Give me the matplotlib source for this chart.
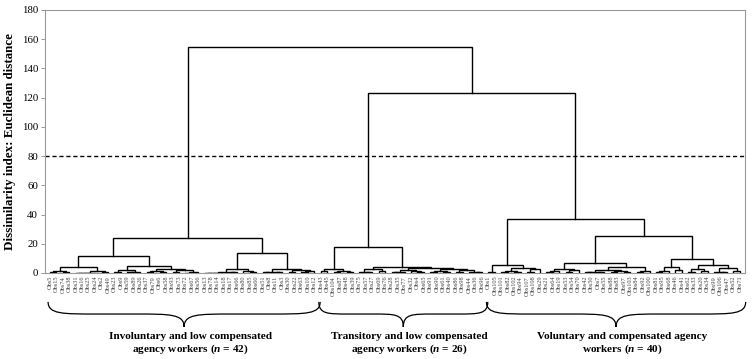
import matplotlib
matplotlib.use("Agg")
import matplotlib.pyplot as plt
from matplotlib.path import Path
from matplotlib.patches import PathPatch
import matplotlib.transforms as mtransforms

# ---------------- data ----------------
group1_labels = [5, 15, 74, 38, 31, 16, 25, 24, 2, 49, 23, 9, 59, 89, 26, 37, 79, 6, 58, 93,
                 73, 72, 67, 56, 13, 78, 14, 18, 17, 66, 80, 85, 60, 51, 8, 11, 3, 30, 22, 63,
                 10, 12]
group2_labels = [43, 45, 104, 87, 48, 39, 75, 57, 27, 69, 76, 28, 35, 77, 32, 4, 65, 91, 90, 61,
                 40, 86, 98, 44, 36, 96]
group3_labels = [1, 105, 101, 82, 102, 94, 107, 108, 29, 21, 64, 19, 53, 54, 70, 42, 50, 7, 55, 88,
                 83, 97, 103, 84, 92, 100, 81, 95, 68, 46, 41, 62, 33, 20, 34, 99, 106, 47, 52, 71]

group_titles = ["Involuntary and low compensated\nagency workers ($\\mathit{n}$ = 42)",
                "Transitory and low compensated\nagency workers ($\\mathit{n}$ = 26)",
                "Voluntary and compensated agency\nworkers ($\\mathit{n}$ = 40)"]

# merge tree: [height, left, right]; integers are leaf positions
tree_group1 = [24.0,
               [11.6,
                [4.3,
                 [1.5, [0.5, 0, 1], [0.8, 2, 3]],
                 [1.5, [0.3, [0.2, [0.1, 4, 5], 6], 7], [0.6, 8, 9]]],
                [5.0,
                 [2.0, [0.7, 10, 11], [1.0, [0.4, 12, 13], 14]],
                 [3.0,
                  [1.2, [0.5, 15, 16], [0.6, 17, 18]],
                  [2.2, [0.8, 19, 20], [0.4, [0.3, 21, 22], 23]]]]],
               [14.0,
                [2.5,
                 [0.6, [0.3, [0.2, [0.1, 24, 25], 26], 27], [0.4, 28, 29]],
                 [1.2, 30, [0.5, 31, 32]]],
                [3.0,
                 [1.0, [0.4, 33, 34], [0.7, 35, 36]],
                 [1.8, [0.6, 37, 38], [1.2, [0.5, 39, 40], 41]]]]]

tree_group2 = [18.0,
               [3.0, [1.2, 42, 43], [1.5, [0.6, 44, 45], [0.8, 46, 47]]],
               [4.4,
                [3.0, [1.0, 48, [0.5, 49, 50]], [1.5, 51, 52]],
                [3.5,
                 [2.2, [0.9, [0.4, 53, 54], 55], [1.3, 56, [0.5, 57, 58]]],
                 [2.8, [1.4, [0.6, 59, 60], [0.8, 61, 62]],
                  [2.0, [0.7, 63, 64], [1.0, 65, [0.4, 66, 67]]]]]]]

tree_group3 = [37.0,
               [5.5, [1.0, 68, 69],
                [3.5, [1.5, [0.6, 70, 71], [0.9, 72, 73]], [2.5, [0.8, 74, 75], 76]]],
               [25.5,
                [6.6,
                 [3.0, [1.2, [0.5, 77, 78], 79], [1.8, [0.6, 80, 81], 82]],
                 [4.3,
                  [2.2, [1.0, [0.5, 83, 84], [0.7, 85, 86]], [1.6, [0.6, 87, 88], [0.9, 89, 90]]],
                  [1.2, [0.5, 91, 92], 93]]],
                [9.5,
                 [4.3, [1.5, [0.6, 94, 95], 96], [2.0, 97, 98]],
                 [5.5, [2.5, [0.8, 99, 100], [1.2, 101, 102]],
                  [3.5, [1.0, 103, [0.4, 104, 105]], [1.5, 106, 107]]]]]]

height_g2_g3 = 123.0
height_root = 155.0
cut_height = 80
y_ticks = list(range(0, 181, 20))

# ---------------- plot ----------------
plt.rcParams["font.family"] = ["Liberation Serif", "DejaVu Serif"]
plt.rcParams["mathtext.fontset"] = "custom"
plt.rcParams["mathtext.it"] = "Liberation Serif:italic:bold"
plt.rcParams["mathtext.rm"] = "Liberation Serif:bold"

fig = plt.figure(figsize=(7.56, 3.59), dpi=100)
ax = fig.add_axes([45 / 756, 1 - 273 / 359, 700 / 756, 263 / 359])

tree = [height_root, tree_group1, [height_g2_g3, tree_group2, tree_group3]]


def draw(node):
    if isinstance(node, int):
        return float(node), 0.0
    h, left, right = node
    xl, hl = draw(left)
    xr, hr = draw(right)
    ax.plot([xl, xl, xr, xr], [hl, h, h, hr], color="black", lw=1.0,
            solid_joinstyle="miter", zorder=3)
    return (xl + xr) / 2.0, h


draw(tree)

all_labels = ["Obs%d" % v for v in group1_labels + group2_labels + group3_labels]
n = len(all_labels)

ax.axhline(cut_height, color="black", lw=1.0, ls=(0, (3, 2)), zorder=2)

ax.set_xlim(-0.78, n - 1 + 0.8)
ax.set_ylim(0, 180)
ax.set_yticks(y_ticks)
ax.set_yticklabels([str(t) for t in y_ticks], fontsize=7.8)
ax.set_xticks(range(n))
ax.set_xticklabels(all_labels, rotation=90, fontsize=4.6, color="#444444")
ax.tick_params(axis="x", length=0, pad=2)
ax.tick_params(axis="y", length=3, width=0.6, color="#888888", pad=2)
for sp in ax.spines.values():
    sp.set_color("#999999")
    sp.set_linewidth(0.8)

ax.set_ylabel("Dissimilarity index: Euclidean distance", fontsize=9.4,
              fontweight="bold", labelpad=4)

# braces and group titles
trans = mtransforms.blended_transform_factory(ax.transData, ax.transAxes)
sizes = [len(group1_labels), len(group2_labels), len(group3_labels)]
starts = [0, sizes[0], sizes[0] + sizes[1]]
y_top = -0.110
y_mid = -0.156
y_tip = -0.205
for s, k, title in zip(starts, sizes, group_titles):
    x0 = s - 0.3
    x1 = s + k - 1 + 0.9
    xc = (x0 + x1) / 2
    d = (xc - x0) * 0.35
    verts = [(x0, y_top), (x0, y_mid), (x0 + d * 0.3, y_mid), (x0 + d, y_mid),
             (xc - d, y_mid),
             (xc - d * 0.3, y_mid), (xc, y_mid), (xc, y_tip),
             (xc, y_mid), (xc + d * 0.3, y_mid), (xc + d, y_mid),
             (x1 - d, y_mid),
             (x1 - d * 0.3, y_mid), (x1, y_mid), (x1, y_top)]
    codes = [Path.MOVETO, Path.CURVE4, Path.CURVE4, Path.CURVE4,
             Path.LINETO,
             Path.CURVE4, Path.CURVE4, Path.CURVE4,
             Path.CURVE4, Path.CURVE4, Path.CURVE4,
             Path.LINETO,
             Path.CURVE4, Path.CURVE4, Path.CURVE4]
    patch = PathPatch(Path(verts, codes), facecolor="none", edgecolor="black",
                      lw=0.9, transform=trans, clip_on=False)
    ax.add_patch(patch)
    ax.text(xc + 1.0, -0.224, title, transform=trans, ha="center", va="top",
            fontsize=8.1, fontweight="bold", linespacing=1.15)

fig.savefig("out.png", dpi=100)
